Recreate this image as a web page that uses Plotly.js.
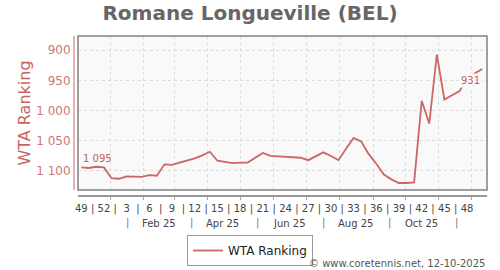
<!DOCTYPE html>
<html>
<head>
<meta charset="utf-8">
<script src="https://cdn.plot.ly/plotly-3.0.1.min.js"></script>
<style>html,body{margin:0;padding:0;background:#fff;}#chart{width:500px;height:270px;}</style>
</head>
<body>
<div id="chart"></div>
<script>
// Weekly ranking points (plotted mid-week)
const weekDates = [
  '2024-12-05','2024-12-12','2024-12-19','2024-12-26',
  '2025-01-02','2025-01-09','2025-01-16','2025-01-23','2025-01-30',
  '2025-02-06','2025-02-13','2025-02-20','2025-02-27',
  '2025-03-06','2025-03-13','2025-03-20','2025-03-27',
  '2025-04-03','2025-04-10','2025-04-17','2025-04-24',
  '2025-05-01','2025-05-08','2025-05-15','2025-05-22','2025-05-29',
  '2025-06-05','2025-06-12','2025-06-19','2025-06-26',
  '2025-07-03','2025-07-10','2025-07-17','2025-07-24','2025-07-31',
  '2025-08-07','2025-08-14','2025-08-21','2025-08-28',
  '2025-09-04','2025-09-11','2025-09-18','2025-09-25',
  '2025-10-02','2025-10-09','2025-10-16','2025-10-23','2025-10-30',
  '2025-11-06','2025-11-13','2025-11-20','2025-11-27',
  '2025-12-04','2025-12-11'
];
const wtaRanking = [
  1095,1096,1094,1095,
  1113,1114,1110,1111,1111,
  1108,1109,1090,1091,
  1087,1084,1080,1075,
  1069,1084,1086,1088,
  1087,1087,1079,1071,1076,
  1077,1077,1078,1079,
  1083,1077,1070,1076,1083,
  1064,1046,1052,1073,
  1089,1107,1115,1121,
  1121,1120,984,1022,907,
  982,975,968,946,
  939,931
];
const weekLabels = ['49','52','3','6','9','12','15','18','21','24','27','30','33','36','39','42','45','48'];
const monthLabels = ['Feb 25','Apr 25','Jun 25','Aug 25','Oct 25'];
const monthLabelDates = ['2025-02-15','2025-04-15','2025-06-16','2025-08-16','2025-10-16'];
const monthSepDates = ['2025-01-17','2025-03-17','2025-05-17','2025-07-17','2025-09-16','2025-11-17'];
const seriesName = 'WTA Ranking';
const titleText = 'Romane Longueville (BEL)';
const creditText = '© www.coretennis.net, 12-10-2025';

const LINE = '#cc6666';
const fmt = v => String(v).replace(/\B(?=(\d{3})+(?!\d))/g, ' ');
const toISO = ms => new Date(ms).toISOString().slice(0,19).replace('T',' ');

// week tick labels every 3rd point, with '|' separators half-way between them
const tickvals = [], ticktext = [];
weekLabels.forEach((lab, k) => {
  const i = 3 * k;
  tickvals.push(weekDates[i]); ticktext.push(lab);
  if (k < weekLabels.length - 1) {
    const a = Date.parse(weekDates[i]), b = Date.parse(weekDates[i + 3]);
    tickvals.push(toISO((a + b) / 2)); ticktext.push('|');
  }
});

const traces = [{
  type: 'scatter', mode: 'lines', name: seriesName,
  x: weekDates, y: wtaRanking,
  line: {color: LINE, width: 1.8},
  hoverinfo: 'skip'
}];

const H = 159, W = 414;
const rowY = px => (195 - px) / H;
const annotations = [];
annotations.push({
  x: weekDates[0], y: wtaRanking[0], xref: 'x', yref: 'y',
  text: fmt(wtaRanking[0]), showarrow: false, xanchor: 'left', yanchor: 'bottom', yshift: 1,
  font: {size: 10, color: '#c06060'}
});
const last = wtaRanking.length - 1;
annotations.push({
  x: weekDates[last], y: wtaRanking[last], xref: 'x', yref: 'y',
  text: fmt(wtaRanking[last]), showarrow: false, xanchor: 'right', yanchor: 'top', yshift: -4,
  bgcolor: '#f9f9f9', borderpad: 1,
  font: {size: 10, color: '#c06060'}
});
monthLabels.forEach((m, i) => annotations.push({
  x: monthLabelDates[i], y: rowY(223), xref: 'x', yref: 'paper', text: m, showarrow: false,
  xanchor: 'center', yanchor: 'middle', font: {size: 10, color: '#444'}
}));
monthSepDates.forEach(d => annotations.push({
  x: d, y: rowY(223), xref: 'x', yref: 'paper', text: '|', showarrow: false,
  xanchor: 'center', yanchor: 'middle', font: {size: 10, color: '#777'}
}));
annotations.push({
  x: 1, y: rowY(263), xref: 'paper', yref: 'paper', text: creditText, showarrow: false,
  xanchor: 'right', yanchor: 'middle', font: {size: 10, color: '#555'}
});

const layout = {
  width: 500, height: 270,
  margin: {l: 73, r: 13, t: 36, b: 75, pad: 0, autoexpand: false},
  paper_bgcolor: '#ffffff', plot_bgcolor: '#f9f9f9',
  font: {family: 'DejaVu Sans, sans-serif', color: '#444'},
  separators: '. ',
  showlegend: true,
  title: {
    text: titleText, x: 0.5, xref: 'container', xanchor: 'center',
    y: 1 - 13 / 270, yref: 'container', yanchor: 'middle',
    font: {size: 20, color: '#666', weight: 'bold', family: 'DejaVu Sans, sans-serif'}
  },
  xaxis: {
    type: 'date', domain: [5 / W, 1], anchor: 'free', position: 0,
    range: ['2024-12-02', '2025-12-15 10:00'], autorange: false,
    tickmode: 'array', tickvals: tickvals, ticktext: ticktext,
    ticks: '', showgrid: false, zeroline: false, ticklabelstandoff: 3,
    showline: true, linecolor: '#999', linewidth: 1.5,
    tickfont: {size: 10, color: '#444'},
    minor: {tickmode: 'linear', tick0: '2025-01-01', dtick: 'M1', showgrid: true,
            gridcolor: '#dcdcdc', griddash: '3px,3px', gridwidth: 1,
            ticks: 'outside', ticklen: 3, tickcolor: '#aaa'},
    fixedrange: true
  },
  yaxis: {
    domain: [5 / H, 1], anchor: 'free', position: 0,
    range: [1132.7, 876.2], autorange: false,
    tickmode: 'linear', tick0: 900, dtick: 50, separatethousands: true,
    showgrid: true, gridcolor: '#dcdcdc', griddash: '3px,3px', zeroline: false,
    showline: true, linecolor: '#e3b3b3', linewidth: 1.5, ticks: '',
    tickfont: {size: 12, color: '#cc7777'},
    title: {text: seriesName, font: {size: 16, color: '#c86464'}},
    fixedrange: true
  },
  legend: {
    orientation: 'h', x: (250 - 73) / W, xanchor: 'center', y: rowY(235), yanchor: 'top',
    bordercolor: '#999', borderwidth: 1, bgcolor: '#fff',
    font: {size: 12, color: '#222'}
  },
  shapes: [{
    type: 'rect', xref: 'x domain', yref: 'y domain', x0: 0, x1: 1, y0: 0, y1: 1,
    line: {color: '#808080', width: 1.5}, fillcolor: 'rgba(0,0,0,0)', layer: 'above'
  }],
  annotations: annotations
};

Plotly.newPlot('chart', traces, layout, {displayModeBar: false, staticPlot: true});
</script>
</body>
</html>
